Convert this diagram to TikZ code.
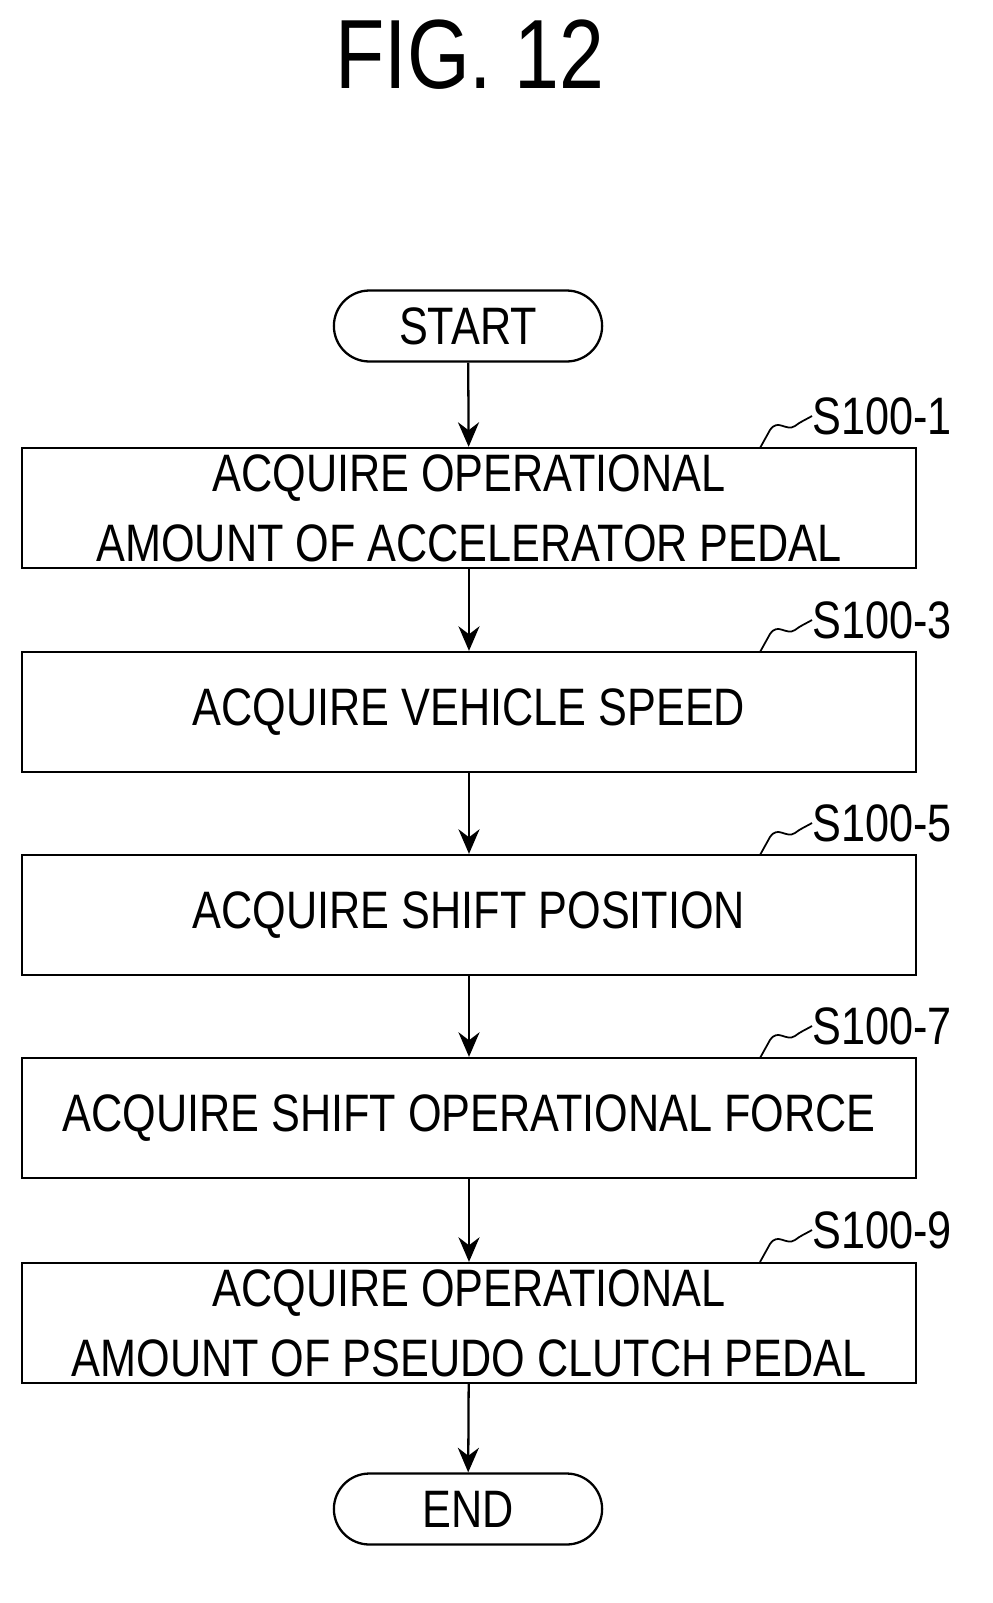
\documentclass[tikz,border=0pt]{standalone}
\usepackage{fontspec}
\newfontfamily\lf[FakeStretch=0.82]{Liberation Sans}
\usetikzlibrary{shapes.misc,arrows.meta}
\begin{document}
\begin{tikzpicture}[x=0.02cm,y=-0.02cm,
  box/.style={draw,line width=1.3pt,minimum width=17.88cm,minimum height=2.4cm,align=center,font=\lf\fontsize{30}{40}\selectfont},
  term/.style={draw,line width=1.3pt,rounded rectangle,minimum width=5.6cm,minimum height=1.42cm,font=\lf\fontsize{30}{36}\selectfont},
  arr/.style={line width=1.3pt,-{Stealth[length=14pt,width=12pt]}},
  lab/.style={font=\lf\fontsize{30}{36}\selectfont,anchor=west,inner sep=0pt},
  sq/.style={line width=1pt}]
\useasboundingbox (0,0) rectangle (993,1603);
\node[font=\lf\fontsize{56}{60}\selectfont] (title) at (470,55) {FIG. 12};
\node[term] (start) at (468,326) {START};
\node[box] (b1) at (469,508) {ACQUIRE OPERATIONAL\\AMOUNT OF ACCELERATOR PEDAL};
\node[box] (b2) at (469,712) {ACQUIRE VEHICLE SPEED};
\node[box] (b3) at (469,915) {ACQUIRE SHIFT POSITION};
\node[box] (b4) at (469,1118) {ACQUIRE SHIFT OPERATIONAL FORCE};
\node[box] (b5) at (469,1323) {ACQUIRE OPERATIONAL\\AMOUNT OF PSEUDO CLUTCH PEDAL};
\node[term] (end) at (468,1509) {END};
\draw[arr] (start) -- (b1);
\draw[arr] (b1) -- (b2);
\draw[arr] (b2) -- (b3);
\draw[arr] (b3) -- (b4);
\draw[arr] (b4) -- (b5);
\draw[arr] (b5) -- (end);
\foreach \n/\y/\t in {1/448/S100-1,3/652/S100-3,5/855/S100-5,7/1058/S100-7,9/1262/S100-9}{
  \node[lab] (l\n) at (812,\y-32) {\t};
  \coordinate (c\n) at (760,\y);
  \draw[sq] (c\n) -- (770,\y-18) .. controls (778,\y-30) and (786,\y-16) .. (795,\y-22) .. controls (800,\y-26) and (805,\y-28) .. (l\n.west);
}
\end{tikzpicture}
\end{document}
